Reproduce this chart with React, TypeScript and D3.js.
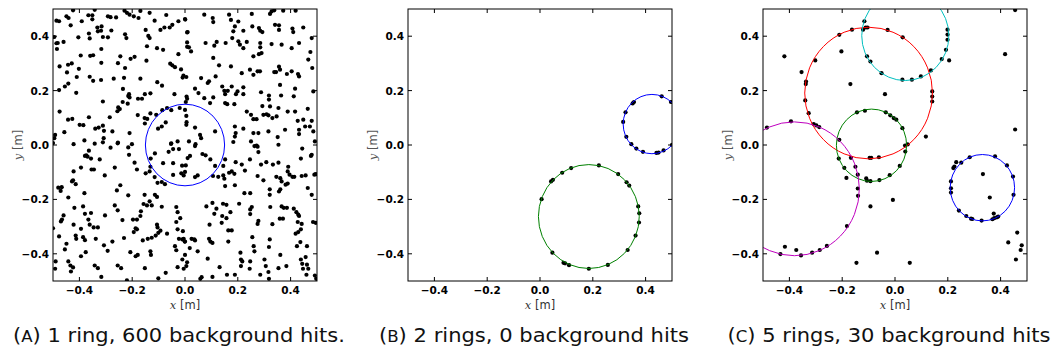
import React from 'react';
import * as d3 from 'd3';

// panel (A): background hits, ring hits are mixed in
const hitsA: number[][] = [
  [-0.424,0.495],[-0.342,0.497],[-0.229,0.494],[-0.220,0.486],[-0.169,0.493],[-0.134,0.486],[-0.071,0.478],
  [-0.487,0.457],[-0.477,0.455],[-0.449,0.473],[-0.441,0.467],[-0.391,0.455],[-0.366,0.477],[-0.351,0.477],
  [-0.351,0.462],[-0.292,0.473],[-0.282,0.470],[-0.261,0.469],[-0.210,0.479],[-0.194,0.473],[-0.176,0.467],
  [-0.115,0.457],[-0.093,0.423],[-0.078,0.432],[-0.058,0.432],[-0.048,0.442],[-0.025,0.455],[0.001,0.461],
  [-0.433,0.440],[-0.332,0.432],[-0.316,0.436],[-0.318,0.420],[-0.330,0.418],[-0.279,0.421],[-0.495,0.397],
  [-0.487,0.374],[-0.482,0.375],[-0.485,0.353],[-0.460,0.379],[-0.404,0.396],[-0.364,0.410],[-0.361,0.392],
  [-0.311,0.397],[-0.292,0.396],[-0.227,0.407],[-0.222,0.393],[-0.149,0.423],[-0.139,0.401],[-0.134,0.393],
  [0.008,0.414],[0.008,0.377],[0.008,0.361],[-0.144,0.363],[-0.106,0.356],[-0.083,0.350],[-0.317,0.353],
  [-0.395,0.329],[-0.359,0.328],[-0.348,0.330],[-0.245,0.326],[-0.206,0.317],[-0.191,0.324],[-0.146,0.310],
  [-0.025,0.334],[-0.475,0.289],[-0.443,0.295],[-0.429,0.300],[-0.447,0.267],[-0.402,0.280],[-0.317,0.302],
  [-0.254,0.301],[-0.227,0.283],[-0.056,0.299],[-0.048,0.293],[-0.038,0.286],[-0.015,0.278],[-0.006,0.255],
  [0.005,0.250],[-0.410,0.250],[-0.361,0.251],[-0.348,0.236],[-0.318,0.239],[-0.270,0.244],[-0.231,0.247],
  [-0.169,0.244],[-0.105,0.231],[-0.477,0.202],[-0.455,0.215],[-0.442,0.226],[-0.412,0.192],[-0.235,0.206],
  [-0.212,0.187],[-0.215,0.180],[-0.210,0.175],[-0.178,0.170],[-0.163,0.170],[-0.152,0.187],[-0.131,0.190],
  [-0.087,0.218],[-0.040,0.187],[-0.311,0.160],[-0.236,0.158],[-0.217,0.152],[-0.256,0.124],[-0.247,0.132],
  [-0.253,0.138],[-0.475,0.123],[-0.443,0.093],[-0.427,0.096],[-0.364,0.102],[-0.285,0.102],[-0.131,0.116],
  [-0.109,0.111],[-0.086,0.128],[-0.068,0.136],[-0.052,0.128],[-0.020,0.136],[0.000,0.129],[0.005,0.107],
  [-0.153,0.099],[-0.179,0.110],[-0.399,0.074],[-0.385,0.073],[-0.152,0.079],[-0.073,0.083],[0.005,0.074],
  [-0.457,0.047],[-0.340,0.060],[-0.327,0.064],[-0.311,0.071],[-0.307,0.052],[-0.275,0.050],[-0.210,0.044],
  [-0.102,0.060],[-0.088,0.068],[-0.492,0.037],[-0.495,0.025],[-0.500,0.007],[-0.422,0.003],[-0.381,0.017],
  [-0.308,0.025],[-0.311,0.010],[-0.254,0.009],[-0.201,0.003],[-0.053,0.004],[-0.028,0.013],
  [-0.143,0.096],[-0.114,-0.031],[-0.083,-0.067],[-0.045,-0.067],[-0.052,0.006],[-0.045,-0.015],
  [-0.023,-0.015],[-0.011,-0.076],[-0.014,-0.104],[-0.045,-0.110],[-0.062,-0.025],[-0.130,-0.050],
  [0.000,0.463],[0.073,0.479],[0.105,0.467],[0.107,0.452],[0.167,0.479],[0.174,0.460],[0.202,0.454],
  [0.189,0.436],[0.183,0.418],[0.179,0.393],[0.221,0.420],[0.253,0.482],[0.255,0.436],[0.280,0.430],
  [0.285,0.420],[0.293,0.415],[0.322,0.482],[0.328,0.491],[0.338,0.495],[0.372,0.494],[0.419,0.494],
  [0.341,0.442],[0.356,0.440],[0.356,0.423],[0.407,0.428],[0.410,0.415],[0.432,0.375],[0.448,0.432],
  [0.480,0.393],[0.010,0.415],[0.015,0.359],[0.023,0.344],[0.078,0.375],[0.111,0.365],[0.120,0.379],
  [0.154,0.375],[0.202,0.381],[0.208,0.369],[0.221,0.356],[0.234,0.379],[0.285,0.375],[0.285,0.359],
  [0.280,0.334],[0.290,0.338],[0.259,0.326],[0.328,0.371],[0.366,0.369],[0.404,0.356],[0.475,0.342],
  [0.467,0.314],[0.107,0.320],[0.129,0.293],[0.174,0.289],[0.215,0.264],[0.246,0.277],[0.259,0.258],
  [0.275,0.271],[0.284,0.271],[0.338,0.268],[0.345,0.268],[0.356,0.288],[0.360,0.277],[0.386,0.261],
  [0.404,0.271],[0.428,0.261],[0.432,0.252],[0.482,0.283],[-0.009,0.248],[0.061,0.246],[0.091,0.234],
  [0.086,0.228],[0.116,0.252],[0.360,0.221],[0.038,0.207],[0.051,0.191],[0.073,0.172],[0.107,0.175],
  [0.141,0.215],[0.149,0.199],[0.152,0.187],[0.162,0.199],[0.177,0.215],[0.193,0.187],[0.199,0.197],
  [0.221,0.212],[0.221,0.187],[0.288,0.194],[0.318,0.182],[0.318,0.167],[0.364,0.182],[0.417,0.207],
  [0.412,0.179],[0.486,0.197],[0.006,0.178],[0.008,0.170],[0.003,0.158],[0.095,0.154],[0.152,0.154],
  [0.160,0.150],[0.187,0.150],[0.234,0.123],[0.250,0.111],[0.259,0.095],[0.271,0.095],[0.293,0.143],
  [0.297,0.111],[0.309,0.113],[0.322,0.142],[0.316,0.109],[0.331,0.099],[0.347,0.105],[0.354,0.136],
  [0.389,0.123],[0.417,0.123],[0.427,0.089],[0.448,0.093],[0.465,0.133],[0.480,0.089],[0.006,0.084],
  [0.038,0.064],[0.057,0.037],[0.061,0.025],[0.114,0.050],[0.189,0.068],[0.221,0.060],[0.192,0.044],
  [0.189,0.031],[0.259,0.044],[0.278,0.044],[0.316,0.050],[0.379,0.056],[0.351,0.029],[0.432,0.056],
  [0.432,0.040],[0.455,0.068],[0.473,0.068],[0.486,0.050],[0.015,0.013],[0.040,0.003],[0.183,0.011],
  [0.250,0.013],[0.271,-0.002],[0.354,0.001],[0.492,0.013],
  [-0.342,0.005],[-0.282,-0.010],[-0.255,0.006],[-0.215,-0.009],[-0.212,-0.036],[-0.364,-0.021],
  [-0.379,-0.040],[-0.374,-0.038],[-0.369,-0.043],[-0.356,-0.050],[-0.323,-0.053],[-0.345,-0.090],
  [-0.354,-0.090],[-0.394,-0.083],[-0.422,-0.097],[-0.424,-0.130],[-0.428,-0.134],[-0.414,-0.144],
  [-0.304,-0.112],[-0.266,-0.083],[-0.191,-0.065],[-0.182,-0.090],[-0.131,-0.080],[-0.134,-0.097],
  [-0.149,-0.104],[-0.115,-0.118],[-0.104,-0.139],[-0.088,-0.136],[-0.076,-0.144],[-0.480,-0.157],
  [-0.467,-0.155],[-0.471,-0.169],[-0.381,-0.177],[-0.245,-0.148],[-0.258,-0.167],[-0.215,-0.185],
  [-0.153,-0.183],[-0.114,-0.183],[-0.106,-0.191],[-0.134,-0.207],[-0.144,-0.222],[-0.157,-0.217],
  [-0.126,-0.222],[-0.088,-0.227],[-0.033,-0.228],[-0.442,-0.193],[-0.419,-0.231],[-0.386,-0.226],
  [-0.379,-0.253],[-0.356,-0.250],[-0.303,-0.259],[-0.266,-0.222],[-0.255,-0.240],[-0.460,-0.259],
  [-0.466,-0.274],[-0.470,-0.281],[-0.422,-0.293],[-0.394,-0.308],[-0.366,-0.274],[-0.361,-0.293],
  [-0.346,-0.303],[-0.330,-0.303],[-0.237,-0.276],[-0.197,-0.274],[-0.182,-0.274],[-0.167,-0.244],
  [-0.169,-0.261],[-0.187,-0.306],[-0.194,-0.320],[-0.182,-0.310],[-0.106,-0.293],[-0.104,-0.303],
  [-0.093,-0.315],[-0.101,-0.323],[-0.028,-0.247],[-0.018,-0.269],[-0.033,-0.283],[-0.028,-0.310],
  [-0.500,-0.306],[-0.477,-0.336],[-0.455,-0.384],[-0.449,-0.363],[-0.414,-0.333],[-0.412,-0.345],
  [-0.386,-0.339],[-0.379,-0.350],[-0.338,-0.345],[-0.307,-0.369],[-0.293,-0.389],[-0.275,-0.355],
  [-0.231,-0.342],[-0.160,-0.351],[-0.141,-0.345],[-0.126,-0.341],[-0.111,-0.333],[-0.068,-0.326],
  [-0.023,-0.345],[-0.010,-0.347],[-0.001,-0.355],[-0.038,-0.372],[-0.033,-0.387],[-0.010,-0.421],
  [0.005,-0.445],[-0.490,-0.428],[-0.442,-0.428],[-0.434,-0.443],[-0.424,-0.450],[-0.432,-0.465],
  [-0.394,-0.409],[-0.376,-0.394],[-0.342,-0.443],[-0.330,-0.453],[-0.317,-0.485],[-0.255,-0.443],
  [-0.242,-0.453],[-0.220,-0.498],[-0.207,-0.394],[-0.187,-0.409],[-0.179,-0.404],[-0.152,-0.453],
  [-0.131,-0.391],[-0.129,-0.404],[-0.101,-0.490],[-0.073,-0.470],[-0.028,-0.449],[-0.492,-0.455],
  [0.038,-0.004],[0.010,-0.048],[0.019,-0.040],[0.003,-0.075],[0.000,-0.099],[-0.005,-0.112],
  [0.038,-0.118],[0.048,-0.112],[0.066,-0.033],[0.078,-0.038],[0.096,-0.053],[0.114,-0.077],
  [0.106,-0.114],[0.126,-0.117],[0.145,-0.077],[0.152,-0.053],[0.145,-0.112],[0.149,-0.124],
  [0.152,-0.151],[0.167,-0.102],[0.177,-0.097],[0.187,-0.106],[0.189,-0.148],[0.192,-0.063],
  [0.215,-0.072],[0.227,-0.094],[0.246,-0.053],[0.263,-0.004],[0.275,-0.006],[0.278,-0.026],
  [0.288,-0.072],[0.275,-0.114],[0.297,-0.130],[0.308,-0.063],[0.333,-0.072],[0.354,-0.065],
  [0.346,-0.117],[0.361,-0.122],[0.366,-0.134],[0.391,-0.080],[0.389,-0.097],[0.396,-0.109],
  [0.407,-0.117],[0.414,-0.117],[0.442,-0.114],[0.457,-0.112],[0.439,-0.050],[0.444,-0.013],
  [0.480,-0.036],[0.477,-0.040],[0.490,-0.109],[0.495,-0.107],[0.465,-0.158],[0.480,-0.183],
  [0.225,-0.177],[0.247,-0.177],[0.321,-0.163],[0.321,-0.183],[0.356,-0.171],[0.361,-0.163],
  [0.381,-0.146],[0.389,-0.142],[0.205,-0.216],[0.081,-0.226],[0.104,-0.213],[0.119,-0.234],
  [0.111,-0.253],[0.144,-0.216],[0.157,-0.220],[0.172,-0.247],[0.157,-0.269],[0.139,-0.286],
  [0.093,-0.293],[0.141,-0.261],[0.247,-0.237],[0.247,-0.254],[0.253,-0.228],[0.323,-0.228],
  [0.366,-0.226],[0.374,-0.231],[0.386,-0.231],[0.412,-0.234],[0.422,-0.247],[0.429,-0.256],
  [0.432,-0.261],[0.427,-0.283],[0.359,-0.271],[0.371,-0.271],[0.331,-0.291],[0.278,-0.279],
  [0.275,-0.290],[0.485,-0.283],[0.495,-0.286],[0.442,-0.290],[0.439,-0.310],[0.429,-0.320],
  [0.419,-0.326],[0.424,-0.372],[0.437,-0.357],[0.462,-0.372],[0.164,-0.314],[0.177,-0.314],
  [-0.008,-0.317],[-0.005,-0.345],[0.000,-0.355],[0.025,-0.345],[0.035,-0.347],[0.038,-0.351],
  [0.091,-0.345],[0.096,-0.355],[0.104,-0.360],[0.164,-0.355],[0.255,-0.339],[0.260,-0.372],
  [0.263,-0.391],[0.321,-0.347],[0.318,-0.375],[0.018,-0.379],[0.048,-0.391],[0.000,-0.404],
  [0.008,-0.431],[-0.005,-0.455],[0.086,-0.418],[0.131,-0.449],[0.159,-0.477],[0.189,-0.477],
  [0.210,-0.396],[0.212,-0.421],[0.217,-0.428],[0.212,-0.445],[0.247,-0.428],[0.245,-0.455],
  [0.285,-0.477],[0.301,-0.421],[0.306,-0.445],[0.316,-0.467],[0.318,-0.492],[0.354,-0.453],
  [0.361,-0.404],[0.384,-0.445],[0.439,-0.421],[0.444,-0.437],[0.457,-0.412],[0.462,-0.440],
  [0.447,-0.455],[0.467,-0.455],[0.460,-0.477],[0.492,-0.480],[0.497,-0.492],[0.063,-0.486],
  [0.058,-0.492],[0.104,-0.485]
];
const ringsA: number[][] = [[0.0, 0.0, 0.15]];

// panel (B)
const hitsB: number[][] = [
  [0.006,-0.199],[0.042,-0.134],[0.049,-0.128],[0.084,-0.102],[0.118,-0.085],[0.223,-0.075],[0.296,-0.107],
  [0.328,-0.137],[0.338,-0.149],[0.372,-0.226],[0.376,-0.251],[0.375,-0.285],[0.362,-0.333],[0.332,-0.386],
  [0.257,-0.441],[0.185,-0.455],[0.110,-0.442],[0.095,-0.435],[0.089,-0.433],[0.047,-0.396],
  [0.461,0.179],[0.496,0.158],[0.356,0.158],[0.351,0.153],[0.324,0.120],[0.315,0.085],[0.327,0.030],
  [0.346,0.003],[0.365,-0.013],[0.390,-0.025],[0.441,-0.029],[0.449,-0.028],[0.468,-0.020],[0.500,0.001]
];
const ringsB: number[][] = [[0.424, 0.077, 0.109], [0.185, -0.263, 0.191]];

// panel (C)
const hitsC: number[][] = [
  [-0.419,0.326],[-0.354,0.268],[-0.337,0.233],[-0.338,0.224],[-0.340,0.164],[-0.327,0.117],[-0.302,0.311],
  [-0.308,0.077],[-0.298,0.072],[-0.287,0.066],[-0.394,0.087],[-0.485,0.064],[-0.211,0.405],[-0.163,0.424],
  [-0.203,0.344],[-0.169,0.224],[-0.116,0.455],[-0.111,0.432],[-0.104,0.432],[-0.121,0.424],[-0.028,0.423],
  [-0.106,0.326],[-0.093,0.307],[-0.051,0.264],[-0.038,0.187],[-0.144,0.120],[-0.114,0.126],[-0.035,0.120],
  [-0.018,0.109],[-0.005,0.099],[0.005,0.093],[-0.211,0.019],[0.028,0.062],
  [-0.167,-0.047],[-0.213,-0.050],[-0.096,-0.047],[-0.090,-0.047],[-0.061,-0.045],[-0.192,-0.084],
  [-0.150,-0.080],[-0.184,-0.121],[-0.141,-0.109],[-0.141,-0.160],[-0.140,-0.187],[-0.109,-0.123],
  [-0.106,-0.131],[-0.093,-0.133],[-0.059,-0.129],[-0.020,-0.111],[0.018,-0.077],[-0.093,-0.226],
  [-0.008,-0.202],[-0.182,-0.298],[-0.258,-0.371],[-0.285,-0.386],[-0.314,-0.396],[-0.356,-0.406],
  [-0.374,-0.386],[-0.417,-0.374],[-0.434,-0.401],[-0.068,-0.396],[-0.146,-0.433],
  [0.455,0.496],[0.417,0.334],[0.199,0.424],[0.199,0.406],[0.199,0.387],[0.193,0.350],[0.177,0.316],
  [0.205,0.311],[0.029,0.396],[0.028,0.240],[0.064,0.240],[0.098,0.252],[0.136,0.274],[0.141,0.197],
  [0.141,0.178],[0.141,0.160],[0.117,0.031],[0.455,0.057],[0.038,-0.002],[0.048,0.002],[0.039,-0.024],
  [0.333,-0.107],[0.232,-0.063],[0.225,-0.079],[0.221,-0.085],[0.212,-0.134],[0.212,-0.159],[0.212,-0.175],
  [0.242,-0.241],[0.270,-0.261],[0.288,-0.271],[0.293,-0.272],[0.328,-0.278],[0.369,-0.273],[0.376,-0.269],
  [0.386,-0.266],[0.391,-0.263],[0.374,-0.252],[0.449,-0.183],[0.447,-0.116],[0.424,-0.075],[0.379,-0.042],
  [0.283,-0.045],[0.251,-0.065],[0.359,-0.193],[0.429,-0.358],[0.463,-0.322],[0.480,-0.369],[0.476,-0.386],
  [0.458,-0.421],[0.056,-0.433]
];
const ringsC: number[][] = [
  [-0.100, 0.191, 0.242], [0.039, 0.402, 0.165], [-0.089, -0.001, 0.133],
  [-0.381, -0.161, 0.246], [0.331, -0.157, 0.122]
];

const ticks = [-0.4, -0.2, 0.0, 0.2, 0.4];
const captions = [
  ['A', ' 1 ring, 600 background hits.'],
  ['B', ' 2 rings, 0 background hits'],
  ['C', ' 5 rings, 30 background hits']
];

const ringColors = [['#0000ff'], ['#0000ff', '#008000'], ['#ff0000', '#00bfbf', '#008000', '#bf00bf', '#0000ff']];

const W = 264, H = 272, top = 9;
const lefts = [53, 408, 763];
const capX = [179, 534, 889];
const capLen = [332, 310, 323];

const fmt = (v: number) => (v < 0 ? '\u2212' : '') + Math.abs(v).toFixed(1);

function Panel({ i, hits, rings }: { i: number; hits: number[][]; rings: number[][] }) {
  const x = d3.scaleLinear().domain([-0.5, 0.5]).range([0, W]);
  const y = d3.scaleLinear().domain([-0.5, 0.5]).range([H, 0]);
  const id = 'clip' + i;
  const tickFont = { fontFamily: 'DejaVu Sans', fontWeight: 'bold', fontSize: 10.5 } as const;
  return (
    <g transform={`translate(${lefts[i]},${top})`}>
      <defs>
        <clipPath id={id}><rect width={W} height={H} /></clipPath>
      </defs>
      <g clipPath={`url(#${id})`}>
        {hits.map((d, k) => (
          <circle key={k} cx={x(d[0])} cy={y(d[1])} r={2.1} fill="#000" />
        ))}
        {rings.map((d, k) => (
          <ellipse key={k} cx={x(d[0])} cy={y(d[1])} rx={x(d[2]) - x(0)} ry={y(0) - y(d[2])}
            fill="none" stroke={ringColors[i][k]} strokeWidth={1} />
        ))}
      </g>
      <rect width={W} height={H} fill="none" stroke="#000" strokeWidth={1} />
      {ticks.map(t => (
        <g key={t}>
          <line x1={x(t)} x2={x(t)} y1={H} y2={H - 4} stroke="#000" />
          <line x1={x(t)} x2={x(t)} y1={0} y2={4} stroke="#000" />
          <line x1={0} x2={4} y1={y(t)} y2={y(t)} stroke="#000" />
          <line x1={W} x2={W - 4} y1={y(t)} y2={y(t)} stroke="#000" />
          <text x={x(t)} y={H + 13} textAnchor="middle" style={tickFont}>{fmt(t)}</text>
          <text x={-4} y={y(t) + 4} textAnchor="end" style={tickFont}>{fmt(t)}</text>
        </g>
      ))}
      <text x={W / 2} y={H + 28} textAnchor="middle" fill="#333" fontSize={11.5} fontFamily="DejaVu Sans">
        <tspan fontFamily="DejaVu Serif" fontStyle="italic">x</tspan> [m]
      </text>
      <text transform={`translate(${-31},${H / 2}) rotate(-90)`} textAnchor="middle" fill="#555"
        fontSize={11.5} fontFamily="DejaVu Sans">
        <tspan fontFamily="DejaVu Serif" fontStyle="italic">y</tspan> [m]
      </text>
    </g>
  );
}

export default function App() {
  const panels = [[hitsA, ringsA], [hitsB, ringsB], [hitsC, ringsC]];
  return (
    <svg width={1052} height={356} style={{ position: 'absolute', left: 0, top: 0, background: '#fff' }}>
      <rect width={1052} height={356} fill="#fff" />
      {panels.map((p, i) => (
        <Panel key={i} i={i} hits={p[0]} rings={p[1]} />
      ))}
      {captions.map((c, i) => (
        <text key={i} x={capX[i]} y={342} textAnchor="middle" fontFamily="DejaVu Sans" fontSize={19}
          fill="#111" textLength={capLen[i]} lengthAdjust="spacingAndGlyphs">
          (<tspan fontSize={15}>{c[0]}</tspan>){c[1]}
        </text>
      ))}
    </svg>
  );
}
